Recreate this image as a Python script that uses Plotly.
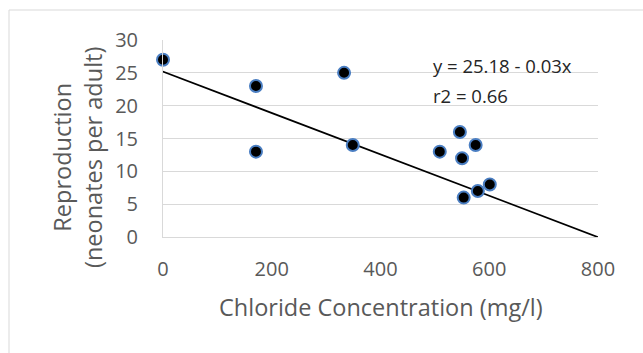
import plotly.graph_objects as go

chloride = [0, 171, 171, 333, 349, 509, 546, 550, 575, 553, 579, 601]
reproduction = [27, 23, 13, 25, 14, 13, 16, 12, 14, 6, 7, 8]
trend_x = [-11, 800]
intercept = 25.18
slope = -0.0315
trend_y = [intercept + slope * x for x in trend_x]

font = "Open Sans, sans-serif"
gray = "#595959"

fig = go.Figure()
fig.add_trace(go.Scatter(x=trend_x, y=trend_y, mode="lines",
                         line=dict(color="black", width=1.8), showlegend=False,
                         cliponaxis=False, hoverinfo="skip"))
fig.add_trace(go.Scatter(x=chloride, y=reproduction, mode="markers",
                         marker=dict(color="black", size=12,
                                     line=dict(color="#4A7EC2", width=2)),
                         showlegend=False, cliponaxis=False))

fig.update_layout(
    width=643, height=353,
    margin=dict(l=163, r=45, t=40, b=116),
    paper_bgcolor="white", plot_bgcolor="white",
    font=dict(family=font, color=gray, size=20),
    xaxis=dict(range=[0, 800], tickvals=[0, 200, 400, 600, 800],
               showgrid=False, zeroline=False, showline=True,
               linecolor="#D9D9D9", linewidth=1, ticks="",
               ticklabelstandoff=14, tickfont=dict(size=20, color=gray)),
    yaxis=dict(range=[0, 30], tickvals=[0, 5, 10, 15, 20, 25, 30],
               showgrid=True, gridcolor="#D9D9D9", gridwidth=1,
               zeroline=False, showline=True, linecolor="#D9D9D9",
               linewidth=1, ticks="", ticklabelstandoff=20,
               tickfont=dict(size=20, color=gray)),
    shapes=[dict(type="rect", xref="paper", yref="paper",
                 x0=(9 - 163) / 435, x1=(660 - 163) / 435,
                 y0=(237 - 370) / 197, y1=(237 - 10) / 197,
                 line=dict(color="#D9D9D9", width=1), layer="below")],
    annotations=[
        dict(text="Reproduction<br>(neonates per adult)", xref="paper", yref="paper",
             x=(77 - 163) / 435, y=(237 - 158) / 197, textangle=-90,
             showarrow=False, font=dict(size=23.5, color=gray),
             xanchor="center", yanchor="middle"),
        dict(text="Chloride Concentration (mg/l)", xref="paper", yref="paper",
             x=(381 - 163) / 435, y=(237 - 307) / 197, showarrow=False,
             font=dict(size=23.5, color=gray), xanchor="center", yanchor="middle"),
        dict(text="y = 25.18 - 0.03x", x=492, y=26.1, xref="x", yref="y",
             showarrow=False, xanchor="left", yanchor="middle",
             font=dict(size=18.5, color="#262626")),
        dict(text="r2 = 0.66", x=492, y=21.6, xref="x", yref="y",
             showarrow=False, xanchor="left", yanchor="middle",
             font=dict(size=18.5, color="#262626")),
    ],
)

fig.write_html("out.html")
